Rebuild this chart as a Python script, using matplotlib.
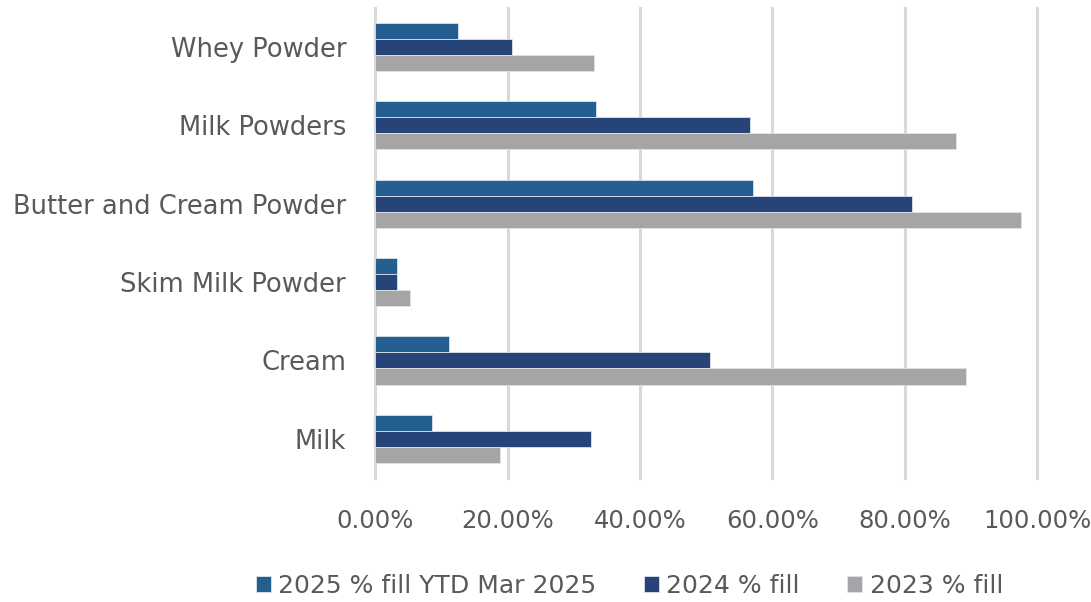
import matplotlib.pyplot as plt
import numpy as np
from matplotlib.ticker import PercentFormatter

# Data
categories = ["Whey Powder", "Milk Powders", "Butter and Cream Powder",
              "Skim Milk Powder", "Cream", "Milk"]
fill_2025 = [0.125, 0.333, 0.571, 0.033, 0.111, 0.086]
fill_2024 = [0.206, 0.566, 0.811, 0.033, 0.506, 0.326]
fill_2023 = [0.331, 0.877, 0.976, 0.053, 0.893, 0.188]
series_names = ["2025 % fill YTD Mar 2025", "2024 % fill", "2023 % fill"]
colors = ["#255E91", "#264478", "#A5A5A5"]

text_color = "#595959"

fig = plt.figure(figsize=(10.91, 6.02), dpi=100)
ax = fig.add_axes([0.344, 0.206, 0.6065, 0.781])

y = np.arange(len(categories))
h = 0.205
for k, (vals, name, col) in enumerate(zip([fill_2025, fill_2024, fill_2023], series_names, colors)):
    ax.barh(y + (k - 1) * h, vals, height=h, color=col, label=name,
            edgecolor="#dce3ec", linewidth=0.6, zorder=3)

ax.set_ylim(len(categories) - 0.5, -0.5)
ax.set_xlim(0, 1.0)
ax.set_yticks(y)
ax.set_yticklabels(categories, fontsize=18.5, color=text_color)
ax.set_xticks(np.arange(0, 1.01, 0.2))
ax.xaxis.set_major_formatter(PercentFormatter(1.0, decimals=2))
ax.tick_params(axis='x', labelsize=17.5, colors=text_color, length=0, pad=22)
ax.tick_params(axis='y', length=0, pad=21)

ax.grid(axis='x', color="#D9D9D9", linewidth=2.2, zorder=0)
ax.set_axisbelow(True)
for line in ax.get_xgridlines():
    line.set_clip_on(False)
for s in ax.spines.values():
    s.set_visible(False)

leg = fig.legend(loc='lower center', bbox_to_anchor=(0.577, -0.03), ncol=3,
                 frameon=False, fontsize=18, handlelength=0.6, handleheight=0.6,
                 handletextpad=0.3, columnspacing=1.9)
for t in leg.get_texts():
    t.set_color(text_color)

fig.savefig("out.png", dpi=100)
